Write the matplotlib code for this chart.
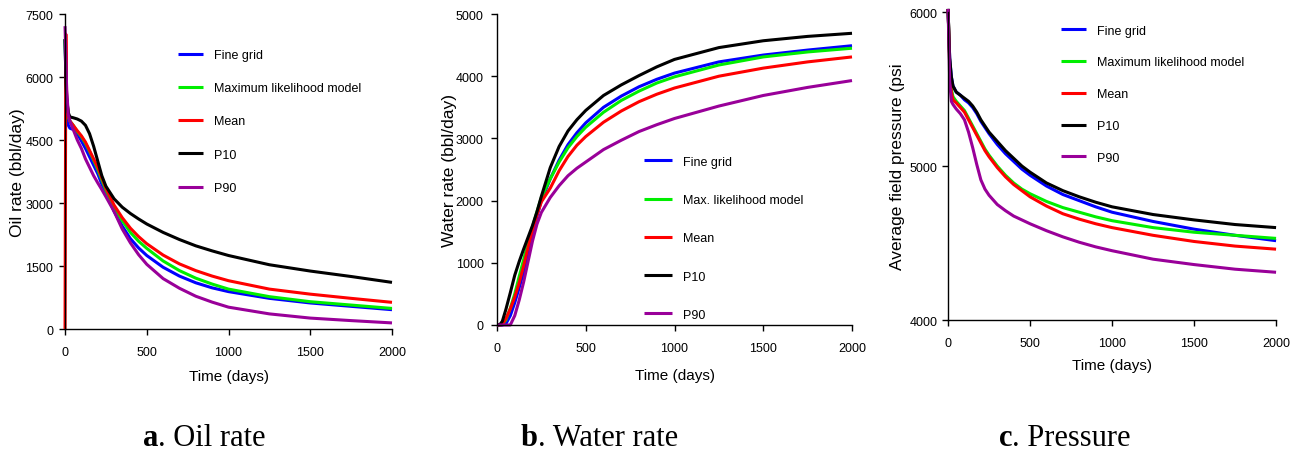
import matplotlib
matplotlib.use("Agg")
import matplotlib.pyplot as plt

# time axes (days)
t = [0, 5, 10, 20, 30, 50, 75, 100, 125, 150, 175, 200, 225, 250, 300, 350,
     400, 450, 500, 600, 700, 800, 900, 1000, 1250, 1500, 1750, 2000]

# a. oil rate (bbl/day)
oil_fine = [6900, 6000, 5300, 4850, 4780, 4750, 4650, 4480, 4300, 4100, 3900, 3700, 3450, 3250,
            2800, 2450, 2150, 1930, 1750, 1470, 1260, 1100, 980, 890, 730, 620, 540, 460]
oil_ml = [6900, 6200, 5500, 5050, 4950, 4850, 4700, 4580, 4420, 4230, 4020, 3800, 3550, 3300,
          2900, 2580, 2300, 2090, 1920, 1620, 1390, 1210, 1070, 950, 770, 650, 570, 490]
oil_mean = [0, 7020, 5500, 5100, 4950, 4850, 4720, 4600, 4450, 4250, 4050, 3850, 3600, 3350,
            2950, 2650, 2400, 2200, 2030, 1760, 1550, 1390, 1260, 1150, 950, 830, 730, 635]
oil_p10 = [6900, 6000, 5500, 5150, 5050, 5030, 5000, 4950, 4850, 4650, 4350, 4000, 3650, 3400,
           3100, 2900, 2750, 2620, 2500, 2300, 2130, 1980, 1860, 1750, 1530, 1380, 1250, 1110]
oil_p90 = [7210, 6500, 5700, 5100, 4950, 4750, 4500, 4300, 4050, 3850, 3650, 3480, 3320, 3150,
           2800, 2380, 2050, 1770, 1540, 1200, 970, 780, 640, 520, 360, 260, 200, 145]

# b. water rate (bbl/day)
wat_fine = [0, 0, 0, 0, 0, 20, 150, 360, 600, 850, 1150, 1450, 1750, 2000,
            2350, 2650, 2900, 3090, 3250, 3500, 3680, 3830, 3950, 4050, 4230, 4340, 4420, 4490]
wat_ml = [0, 0, 0, 0, 10, 80, 270, 500, 780, 1050, 1320, 1580, 1820, 2050,
          2350, 2620, 2850, 3030, 3180, 3420, 3610, 3760, 3890, 3990, 4180, 4310, 4390, 4450]
wat_mean = [0, 0, 0, 0, 10, 100, 260, 450, 680, 950, 1250, 1520, 1770, 1980,
            2200, 2480, 2710, 2890, 3030, 3260, 3440, 3590, 3710, 3810, 4000, 4130, 4230, 4310]
wat_p10 = [0, 0, 0, 20, 60, 250, 520, 800, 1020, 1220, 1410, 1600, 1820, 2070,
           2530, 2870, 3120, 3300, 3450, 3690, 3860, 4010, 4150, 4270, 4460, 4570, 4640, 4690]
wat_p90 = [0, 0, 0, 0, 0, 0, 0, 150, 400, 690, 1020, 1350, 1620, 1810,
           2050, 2240, 2400, 2520, 2620, 2820, 2970, 3110, 3220, 3320, 3520, 3690, 3820, 3930]

# c. average field pressure (psi)
pr_fine = [6020, 5850, 5700, 5580, 5520, 5480, 5460, 5430, 5410, 5380, 5340, 5290, 5250, 5210,
           5140, 5080, 5030, 4980, 4940, 4870, 4815, 4775, 4735, 4700, 4640, 4590, 4550, 4515]
pr_ml = [6020, 5850, 5650, 5500, 5450, 5420, 5390, 5360, 5310, 5260, 5210, 5160, 5110, 5070,
         5000, 4940, 4890, 4850, 4820, 4770, 4730, 4700, 4670, 4645, 4600, 4570, 4550, 4530]
pr_mean = [6020, 5850, 5650, 5480, 5430, 5410, 5380, 5350, 5300, 5250, 5200, 5150, 5100, 5060,
           4990, 4930, 4880, 4840, 4800, 4740, 4690, 4655, 4625, 4600, 4550, 4510, 4480, 4460]
pr_p10 = [6020, 5850, 5700, 5580, 5520, 5480, 5460, 5440, 5420, 5390, 5350, 5300, 5260, 5220,
          5160, 5100, 5050, 5000, 4960, 4890, 4840, 4800, 4765, 4735, 4685, 4650, 4620, 4600]
pr_p90 = [6020, 5800, 5550, 5420, 5400, 5370, 5340, 5300, 5220, 5120, 5010, 4910, 4850, 4810,
          4750, 4710, 4675, 4650, 4625, 4580, 4540, 4505, 4475, 4450, 4395, 4360, 4330, 4310]

colors = ["#0000ff", "#00ee00", "#ff0000", "#000000", "#990099"]

plt.rcParams["font.family"] = ["Liberation Sans", "DejaVu Sans"]

fig = plt.figure(figsize=(12.98, 4.52), dpi=100)

panels = [
    dict(rect=[0.0501, 0.2699, 0.2519, 0.6969],
         series=[oil_fine, oil_ml, oil_mean, oil_p10, oil_p90],
         labels=["Fine grid", "Maximum likelihood model", "Mean", "P10", "P90"],
         ylim=(0, 7500), yticks=[0, 1500, 3000, 4500, 6000, 7500],
         ylabel="Oil rate (bbl/day)", leg=(0.33, 0.905), ls=1.7, hl=2.0,
         ypad=4.5, ylpad=0, xlpad=8),
    dict(rect=[0.3829, 0.2788, 0.2735, 0.6880],
         series=[wat_fine, wat_ml, wat_mean, wat_p10, wat_p90],
         labels=["Fine grid", "Max. likelihood model", "Mean", "P10", "P90"],
         ylim=(0, 5000), yticks=[0, 1000, 2000, 3000, 4000, 5000],
         ylabel="Water rate (bbl/day)", leg=(0.40, 0.56), ls=2.1, hl=2.25,
         ypad=5.5, ylpad=-1, xlpad=10),
    dict(rect=[0.7304, 0.2898, 0.2527, 0.6814],
         series=[pr_fine, pr_ml, pr_mean, pr_p10, pr_p90],
         labels=["Fine grid", "Maximum likelihood model", "Mean", "P10", "P90"],
         ylim=(4000, 6000), yticks=[4000, 5000, 6000],
         ylabel="Average field pressure (psi", leg=(0.33, 0.975), ls=1.58, hl=2.0,
         ypad=3.5, ylpad=3, xlpad=7),
]

for p in panels:
    ax = fig.add_axes(p["rect"])
    for vals, lab, col in zip(p["series"], p["labels"], colors):
        ax.plot(t, vals, color=col, lw=2.2, label=lab, clip_on=False,
                solid_capstyle="butt")
    ax.set_xlim(0, 2000)
    ax.set_ylim(*p["ylim"])
    ax.set_xticks([0, 500, 1000, 1500, 2000])
    ax.set_yticks(p["yticks"])
    for side in ["top", "right"]:
        ax.spines[side].set_visible(False)
    for side in ["left", "bottom"]:
        ax.spines[side].set_linewidth(1.0)
    ax.tick_params(direction="out", length=4, width=1.0, labelsize=9)
    ax.tick_params(axis="x", pad=8)
    ax.tick_params(axis="y", pad=p["ypad"])
    ax.set_xlabel("Time (days)", fontsize=11, labelpad=p["xlpad"])
    ax.set_ylabel(p["ylabel"], fontsize=12.5, labelpad=p["ylpad"])
    ax.legend(loc="upper left", bbox_to_anchor=p["leg"], frameon=False,
              fontsize=9, handlelength=p["hl"], handletextpad=0.85,
              labelspacing=p["ls"], borderaxespad=0)

# captions: bold letter, then the plain text
caps = [(0.122, "a", "Oil rate"), (0.4145, "b", "Water rate"), (0.780, "c", "Pressure")]
for x, letter, txt in caps:
    fig.text(x, 0.03, letter, ha="right", va="center", fontsize=22,
             family="Liberation Serif", fontweight="bold")
    fig.text(x, 0.03, ". " + txt, ha="left", va="center", fontsize=22,
             family="Liberation Serif")

fig.savefig("out.png", dpi=100)
